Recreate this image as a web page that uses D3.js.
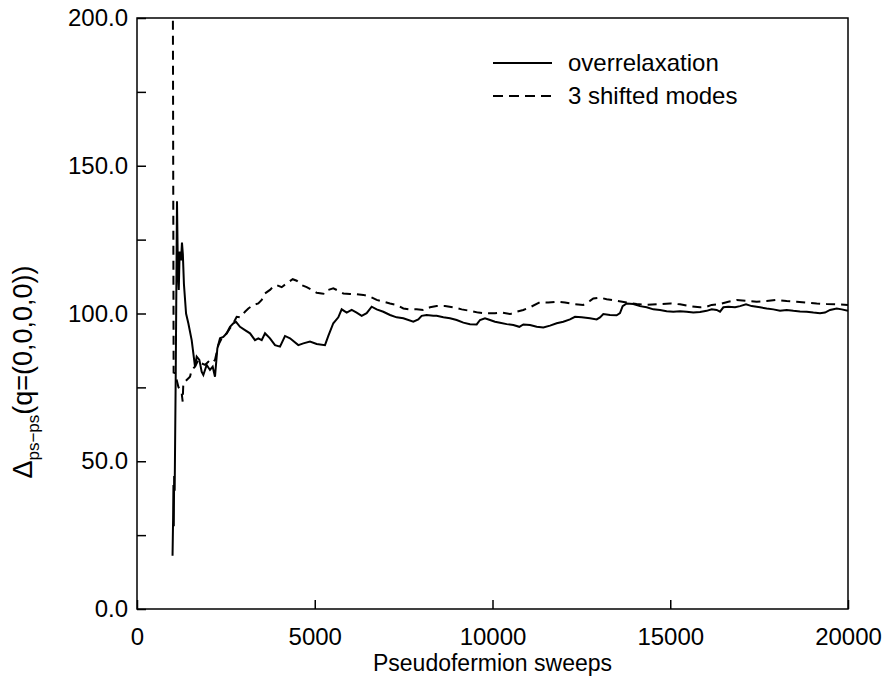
<!DOCTYPE html>
<html>
<head>
<meta charset="utf-8">
<script src="https://cdn.jsdelivr.net/npm/d3@7"></script>
<style>
  body { margin: 0; background: #fff; }
  text { font-family: "Liberation Sans", Arial, sans-serif; fill: #000; }
</style>
</head>
<body>
<div id="chart"></div>
<script>
// sweeps / value pairs
const overrelaxX = [1000, 1015, 1025, 1035, 1045, 1060, 1090, 1125, 1150, 1175, 1200, 1240, 1265, 1290, 1320, 1380, 1444, 1538, 1632, 1679, 1754, 1819, 1866, 1960, 2053, 2129, 2194, 2260, 2335, 2428, 2523, 2616, 2710, 2785, 2897, 3038, 3179, 3319, 3413, 3508, 3601, 3741, 3882, 4023, 4163, 4304, 4538, 4679, 4866, 5054, 5288, 5382, 5522, 5663, 5757, 5898, 6039, 6179, 6320, 6460, 6601, 6742, 6929, 7117, 7304, 7492, 7773, 7913, 8007, 8148, 8335, 8429, 8617, 8805, 8992, 9180, 9367, 9555, 9649, 9789, 9930, 10070, 10211, 10399, 10586, 10755, 10867, 11055, 11243, 11430, 11618, 11805, 11992, 12180, 12321, 12509, 12742, 12930, 13024, 13117, 13305, 13493, 13586, 13661, 13774, 13961, 14149, 14337, 14524, 14712, 14899, 15087, 15274, 15462, 15649, 15837, 16024, 16165, 16306, 16400, 16494, 16634, 16822, 16962, 17131, 17291, 17525, 17713, 17900, 18088, 18276, 18463, 18651, 18838, 19026, 19213, 19354, 19495, 19682, 19823, 20000];
const overrelaxY = [18, 30, 42, 28, 45, 40, 80, 138, 115, 108, 121, 118, 124, 120, 110, 100, 96.7, 91.0, 82.0, 85.4, 84.3, 80.3, 79.2, 82.6, 80.9, 82.0, 78.6, 88.2, 91.6, 92.1, 93.3, 95.5, 96.7, 97.2, 95.5, 94.4, 93.3, 91.0, 91.6, 91.0, 93.3, 91.6, 89.3, 88.8, 92.4, 91.6, 89.3, 89.9, 90.5, 89.7, 89.3, 92.4, 96.7, 98.7, 101.4, 100.3, 101.2, 100.3, 99.2, 100.1, 102.3, 101.4, 100.6, 99.5, 98.7, 98.4, 97.2, 98.0, 99.2, 99.5, 99.2, 99.2, 98.7, 98.4, 97.8, 96.9, 96.4, 96.3, 97.8, 98.4, 97.8, 97.2, 96.9, 96.4, 96.1, 95.5, 96.3, 96.1, 95.5, 95.3, 95.9, 96.7, 97.2, 98.0, 98.9, 98.7, 98.4, 98.0, 98.7, 99.8, 99.5, 99.4, 100.1, 102.5, 103.4, 103.2, 102.5, 102.1, 101.4, 101.2, 100.8, 100.6, 100.8, 100.6, 100.3, 100.5, 100.9, 101.4, 101.2, 100.6, 102.1, 102.3, 102.1, 102.5, 103.1, 102.5, 102.1, 101.7, 101.4, 100.9, 101.2, 100.9, 100.7, 100.6, 100.3, 100.1, 100.3, 101.2, 101.7, 101.4, 100.9];

const shiftedX = [1000, 1030, 1069, 1163, 1257, 1285, 1303, 1397, 1491, 1538, 1632, 1725, 1819, 1913, 2007, 2100, 2194, 2288, 2382, 2523, 2616, 2710, 2804, 2897, 3038, 3132, 3273, 3413, 3508, 3601, 3741, 3835, 3929, 4070, 4211, 4380, 4492, 4633, 4773, 4914, 5054, 5195, 5288, 5382, 5522, 5663, 5804, 5991, 6179, 6366, 6554, 6742, 6929, 7117, 7304, 7492, 7679, 7867, 8054, 8242, 8429, 8664, 8898, 9133, 9367, 9601, 9836, 10070, 10258, 10492, 10680, 10867, 11055, 11336, 11570, 11805, 12039, 12273, 12555, 12742, 12836, 13024, 13211, 13493, 13774, 14055, 14337, 14712, 14993, 15274, 15556, 15837, 16024, 16165, 16400, 16634, 16869, 17150, 17431, 17713, 17994, 18276, 18557, 18838, 19120, 19401, 19682, 20000];
const shiftedY = [260, 80, 79.8, 75.2, 73.0, 70.2, 76.4, 77.5, 78.6, 80.9, 82.0, 84.3, 83.1, 82.6, 83.7, 83.1, 84.3, 89.3, 91.6, 93.3, 95.0, 96.7, 98.9, 98.7, 100.6, 101.7, 102.9, 103.4, 104.6, 106.8, 108.0, 109.1, 109.6, 108.9, 110.2, 111.6, 111.1, 109.6, 108.9, 108.0, 107.0, 106.8, 106.6, 108.0, 108.5, 107.7, 106.8, 106.6, 106.5, 106.3, 105.7, 104.6, 104.0, 103.4, 102.9, 101.7, 101.4, 101.4, 101.2, 102.1, 102.5, 102.5, 102.1, 101.4, 100.9, 100.3, 100.1, 100.1, 100.3, 99.8, 100.6, 101.2, 102.1, 103.8, 103.7, 104.0, 103.7, 103.2, 102.9, 104.3, 105.1, 105.4, 104.8, 104.3, 103.7, 103.2, 102.9, 103.2, 103.4, 103.1, 102.5, 102.1, 102.3, 102.9, 103.2, 104.0, 104.6, 104.3, 104.0, 104.2, 104.6, 104.2, 104.0, 103.7, 103.4, 103.2, 103.1, 102.9];

const xTicks = [0, 5000, 10000, 15000, 20000];
const yTicks = [0, 25, 50, 75, 100, 125, 150, 175, 200];
const yLabelTicks = [0, 50, 100, 150, 200];
const seriesNames = ["overrelaxation", "3 shifted modes"];

const width = 886, height = 683;
const margin = { top: 18, right: 38, bottom: 74, left: 137 };

const svg = d3.select("#chart").append("svg")
    .attr("width", width)
    .attr("height", height);

const x = d3.scaleLinear().domain([0, 20000]).range([margin.left, width - margin.right]);
const y = d3.scaleLinear().domain([0, 200]).range([height - margin.bottom, margin.top]);

svg.append("clipPath").attr("id", "plot-clip")
    .append("rect")
    .attr("x", x(0)).attr("y", y(200))
    .attr("width", x(20000) - x(0)).attr("height", y(0) - y(200));

const line = d3.line().x(d => x(d[0])).y(d => y(d[1]));

const solid = overrelaxX.map((v, i) => [v, overrelaxY[i]]);
const dashed = shiftedX.map((v, i) => [v, shiftedY[i]]);

const plot = svg.append("g").attr("clip-path", "url(#plot-clip)");

plot.append("path")
    .datum(dashed)
    .attr("d", line)
    .attr("fill", "none")
    .attr("stroke", "#000")
    .attr("stroke-width", 2)
    .attr("stroke-dasharray", "9,6");

plot.append("path")
    .datum(solid)
    .attr("d", line)
    .attr("fill", "none")
    .attr("stroke", "#000")
    .attr("stroke-width", 2);

// frame
svg.append("rect")
    .attr("x", x(0)).attr("y", y(200))
    .attr("width", x(20000) - x(0)).attr("height", y(0) - y(200))
    .attr("fill", "none")
    .attr("stroke", "#000")
    .attr("stroke-width", 1.5);

// x axis, ticks pointing inward
const xAxis = svg.append("g")
    .attr("transform", `translate(0, ${y(0)})`)
    .call(d3.axisBottom(x).tickValues(xTicks).tickSizeInner(-9).tickSizeOuter(0).tickPadding(19)
        .tickFormat(d3.format("d")));
xAxis.select(".domain").remove();
xAxis.selectAll("line").attr("stroke-width", 1.5);
xAxis.selectAll("text").style("font-size", "24px").attr("font-family", "Liberation Sans, Arial, sans-serif");

// y axis
const yAxis = svg.append("g")
    .attr("transform", `translate(${x(0)}, 0)`)
    .call(d3.axisLeft(y).tickValues(yTicks).tickSizeInner(-9).tickSizeOuter(0).tickPadding(9)
        .tickFormat(d => yLabelTicks.includes(d) ? d3.format(".1f")(d) : ""));
yAxis.select(".domain").remove();
yAxis.selectAll("line").attr("stroke-width", 1.5);
yAxis.selectAll("text").style("font-size", "24px").attr("font-family", "Liberation Sans, Arial, sans-serif");

// axis titles
svg.append("text")
    .attr("x", (x(0) + x(20000)) / 2)
    .attr("y", 671)
    .attr("text-anchor", "middle")
    .style("font-size", "23px")
    .text("Pseudofermion sweeps");

const yTitle = svg.append("text")
    .attr("transform", "translate(32, 372) rotate(-90)")
    .attr("text-anchor", "middle")
    .style("font-size", "27px");
yTitle.append("tspan").text("Δ");
yTitle.append("tspan").attr("dy", 7).style("font-size", "17px").text("ps−ps");
yTitle.append("tspan").attr("dy", -7).text("(q=(0,0,0,0))");

// legend
const legend = svg.append("g");
seriesNames.forEach((name, i) => {
    const ly = 63 + i * 33;
    legend.append("line")
        .attr("x1", 493).attr("x2", 552)
        .attr("y1", ly).attr("y2", ly)
        .attr("stroke", "#000")
        .attr("stroke-width", 2)
        .attr("stroke-dasharray", i === 1 ? "10,6" : null);
    legend.append("text")
        .attr("x", 568).attr("y", ly)
        .attr("dy", "0.35em")
        .style("font-size", "24px")
        .text(name);
});
</script>
</body>
</html>
